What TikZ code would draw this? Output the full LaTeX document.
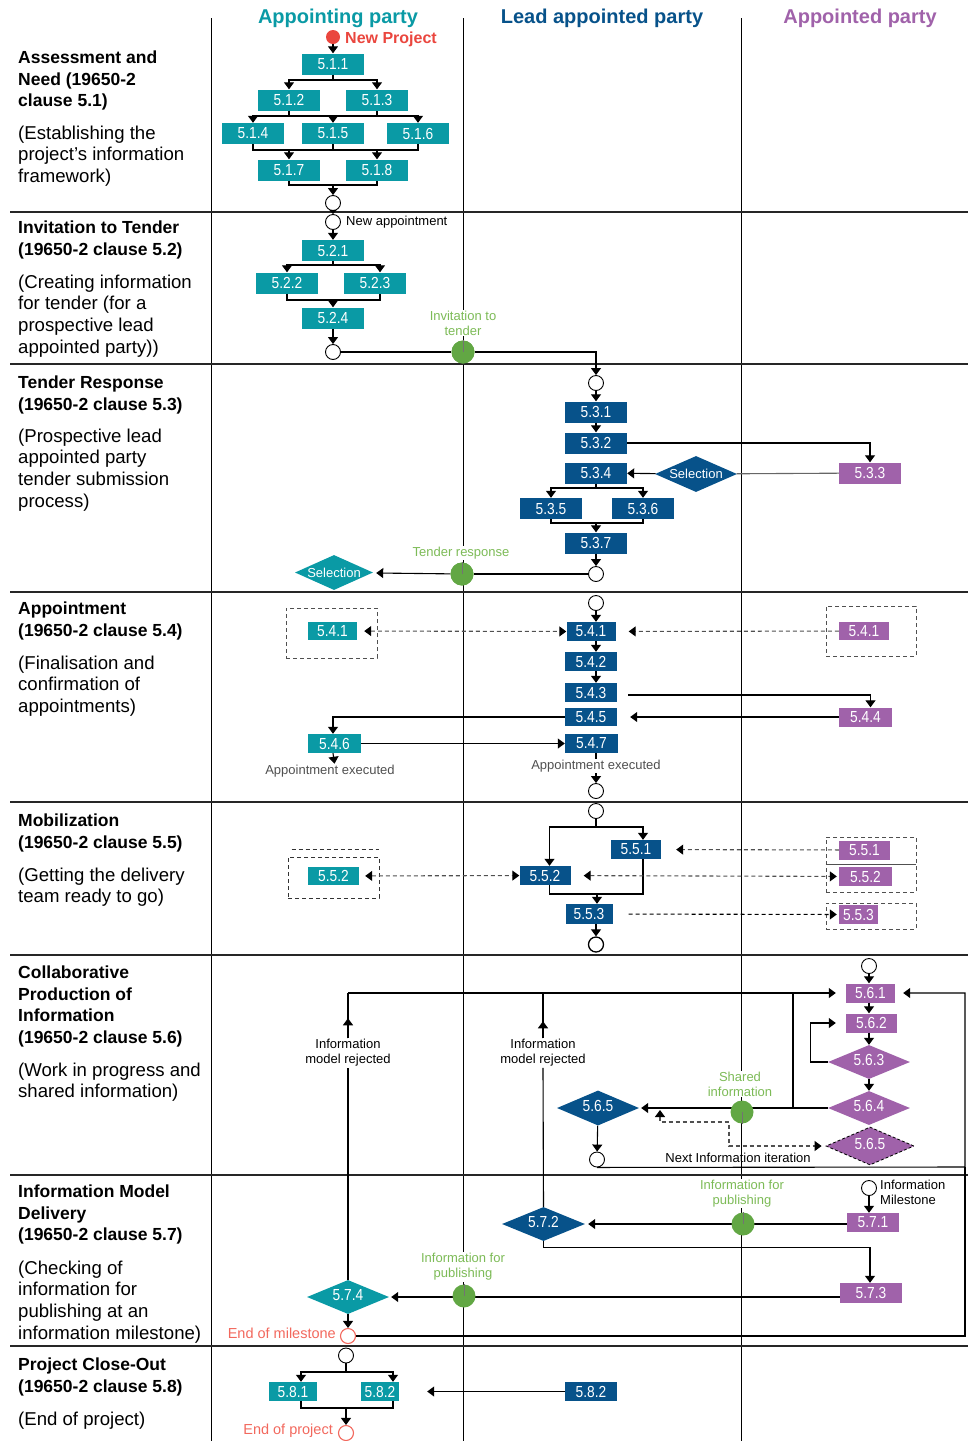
\documentclass[tikz,border=0pt]{standalone}
\usepackage{fontspec}
\setmainfont{Liberation Sans}
\newfontfamily\boxfont[FakeStretch=0.86]{Liberation Sans}
\usetikzlibrary{arrows.meta,shapes.geometric,calc}

\definecolor{apteal}{HTML}{0A9AA5}
\definecolor{lapblue}{HTML}{07528A}
\definecolor{appurple}{HTML}{A062AA}
\definecolor{dotgreen}{HTML}{62A744}
\definecolor{txtgreen}{HTML}{7DBB57}
\definecolor{npred}{HTML}{EA463E}
\definecolor{endred}{HTML}{F2685D}
\definecolor{capgray}{HTML}{505050}

\tikzset{
  task/.style={rectangle, inner sep=0pt, minimum width=62pt, minimum height=21pt,
    text=white, font=\boxfont\fontsize{16}{16}\selectfont},
  apt/.style={task, fill=apteal},
  lap/.style={task, fill=lapblue},
  apd/.style={task, fill=appurple},
  gate/.style={diamond, aspect=2.4, inner sep=0pt, minimum width=82pt, minimum height=34pt,
    text=white, text depth=5pt, font=\boxfont\fontsize{16}{16}\selectfont},
  choice/.style={diamond, aspect=2.4, inner sep=0pt, minimum width=82pt, minimum height=36pt,
    text=white, font=\fontsize{13}{13}\selectfont},
  state/.style={circle, draw=black, fill=white, line width=0.9pt, minimum size=15pt, inner sep=0pt},
  endstate/.style={state, draw=endred, line width=1.1pt},
  hand/.style={circle, fill=dotgreen, minimum size=23pt, inner sep=0pt},
  seam/.style={line width=0.6pt, draw=black!55},
  flow/.style={line width=1.1pt, draw=black},
  arr/.style={flow, -{Triangle[length=7pt,width=10pt]}},
  link/.style={line width=1.1pt, draw=capgray, dash pattern=on 4pt off 3pt},
  larr/.style={link, {Triangle[length=7pt,width=10pt,color=black]}-{Triangle[length=7pt,width=10pt,color=black]}},
  rarr/.style={link, -{Triangle[length=7pt,width=10pt,color=black]}},
  frame/.style={draw=capgray, line width=0.9pt, dash pattern=on 4pt off 3pt, inner sep=0pt, fill=none},
  small/.style={font=\fontsize{13}{15}\selectfont, inner sep=1pt, align=center, fill=white},
  greenlab/.style={small, text=txtgreen},
  redlab/.style={inner sep=1pt, text=endred, font=\fontsize{14.5}{16}\selectfont},
  phase/.style={anchor=north west, align=left, inner sep=0pt, font=\bfseries\fontsize{17.5}{21.7}\selectfont},
  phasenote/.style={anchor=north west, align=left, inner sep=0pt, font=\fontsize{18.6}{21.7}\selectfont},
  lane/.style={font=\bfseries\fontsize{20}{24}\selectfont, anchor=base, inner sep=0pt},
}

\begin{document}
\begin{tikzpicture}[x=1pt,y=-1pt]
\useasboundingbox (0,0) rectangle (968,1441);

% swimlane grid
\draw[line width=1pt] (211,18) -- (211,1441);
\draw[line width=1pt] (463,18) -- (463,1441);
\draw[line width=1pt] (741,18) -- (741,1441);
\foreach \yy in {212,364,592,802,955,1175,1346}
  \draw[line width=1.2pt, draw=black!85] (10,\yy) -- (968,\yy);

% lane headers
\node[lane, text=apteal] (hA) at (338,23) {Appointing party};
\node[lane, text=lapblue] (hL) at (602,23) {Lead appointed party};
\node[lane, text=appurple] (hP) at (860,23) {Appointed party};

% phase descriptions
\node[phase] (p1) at (18,50.5) {Assessment and\\Need (19650-2\\clause 5.1)};
\node[phasenote] (p1n) at (18,125.5) {(Establishing the\\project’s information\\framework)};
\node[phase] (p2) at (18,220.5) {Invitation to Tender\\(19650-2 clause 5.2)};
\node[phasenote] (p2n) at (18,274.5) {(Creating information\\for tender (for a\\prospective lead\\appointed party))};
\node[phase] (p3) at (18,375.5) {Tender Response\\(19650-2 clause 5.3)};
\node[phasenote] (p3n) at (18,428.5) {(Prospective lead\\appointed party\\tender submission\\process)};
\node[phase] (p4) at (18,601.5) {Appointment\\(19650-2 clause 5.4)};
\node[phasenote] (p4n) at (18,655.5) {(Finalisation and\\confirmation of\\appointments)};
\node[phase] (p5) at (18,813.5) {Mobilization\\(19650-2 clause 5.5)};
\node[phasenote] (p5n) at (18,867.5) {(Getting the delivery\\team ready to go)};
\node[phase] (p6) at (18,965.5) {Collaborative\\Production of\\Information\\(19650-2 clause 5.6)};
\node[phasenote] (p6n) at (18,1062.5) {(Work in progress and\\shared information)};
\node[phase] (p7) at (18,1184.5) {Information Model\\Delivery\\(19650-2 clause 5.7)};
\node[phasenote] (p7n) at (18,1260.5) {(Checking of\\information for\\publishing at an\\information milestone)};
\node[phase] (p8) at (18,1357.5) {Project Close-Out\\(19650-2 clause 5.8)};
\node[phasenote] (p8n) at (18,1411.5) {(End of project)};

% ---------- 5.1 assessment and need
\node[circle, fill=npred, minimum size=14pt, inner sep=0pt] (np) at (333,37) {};
\node[anchor=base west, text=npred, font=\bfseries\fontsize{16}{16}\selectfont, inner sep=0pt] (npl) at (345,43) {New Project};
\node[apt] (t511) at (333,64) {5.1.1};
\node[apt] (t512) at (289,100) {5.1.2};
\node[apt] (t513) at (377,100) {5.1.3};
\node[apt] (t514) at (253,133.5) {5.1.4};
\node[apt] (t515) at (333,133.5) {5.1.5};
\node[apt] (t516) at (418,133.5) {5.1.6};
\node[apt] (t517) at (289,170) {5.1.7};
\node[apt] (t518) at (377,170) {5.1.8};
\node[state] (e51) at (333,203) {};
\coordinate (j1) at (333,80);
\coordinate (j2) at (333,116);
\coordinate (j3) at (333,150);
\coordinate (j4) at (333,185);
\draw[arr] (np) -- (t511);
\draw[flow] (t511) -- (j1);
\draw[arr] (j1) -| (t512.north);
\draw[arr] (j1) -| (t513.north);
\draw[flow] (t512.south) |- (j2) -| (t513.south);
\draw[arr] (j2) -| (t514.north);
\draw[arr] (j2) -| (t516.north);
\draw[arr] (j2) -- (t515.north);
\draw[flow] (t514.south) |- (j3) -| (t516.south);
\draw[flow] (t515.south) -- (j3);
\draw[arr] (j3) -| (t517.north);
\draw[arr] (j3) -| (t518.north);
\draw[flow] (t517.south) |- (j4) -| (t518.south);
\draw[arr] (j4) -- (e51.north);

% ---------- 5.2 invitation to tender
\node[state] (s52) at (333,222) {};
\draw[flow, -{Triangle[length=4pt,width=7pt]}] (e51.south) -- (s52.north);
\node[small, anchor=west] (s52l) at (345,222) {New appointment};
\node[apt] (t521) at (333,250.5) {5.2.1};
\node[apt] (t522) at (287,283) {5.2.2};
\node[apt] (t523) at (375,283) {5.2.3};
\node[apt] (t524) at (333,318) {5.2.4};
\node[state] (e52) at (333,352) {};
\coordinate (j5) at (333,265);
\coordinate (j6) at (333,300);
\draw[arr] (s52) -- (t521);
\draw[flow] (t521) -- (j5);
\draw[arr] (j5) -| (t522.north);
\draw[arr] (j5) -| ([xshift=5pt]t523.north);
\draw[flow] (t522.south) |- (j6) -| ([xshift=5pt]t523.south);
\draw[arr] (j6) -- (t524.north);
\draw[arr] (t524) -- (e52);
\node[state] (s53) at (596,383) {};
\node[hand] (g1) at (463,352) {};
\draw[flow] (e52) -- (g1);
\draw[arr] (g1) -| (s53.north);
\node[hand] at (g1) {};
\draw[seam] (g1.north) -- (g1.center);
\node[greenlab] (g1l) at (463,323) {Invitation to\\tender};

% ---------- 5.3 tender response
\node[lap] (t531) at (596,412) {5.3.1};
\node[lap] (t532) at (596,443) {5.3.2};
\node[apd] (t533) at (870,473) {5.3.3};
\node[choice, fill=lapblue] (sel1) at (696,474) {Selection};
\node[lap] (t534) at (596,473) {5.3.4};
\node[lap] (t535) at (551,508.5) {5.3.5};
\node[lap] (t536) at (643,508.5) {5.3.6};
\node[lap] (t537) at (596,543) {5.3.7};
\node[state] (e53) at (596,574) {};
\node[choice, fill=apteal, minimum width=78pt, minimum height=35pt] (sel2) at (334,572.5) {Selection};
\coordinate (j7) at (596,488);
\coordinate (j8) at (596,523);
\draw[arr] (s53) -- (t531);
\draw[arr] (t531) -- (t532);
\draw[arr] (t532.east) -| (t533.north);
\draw[flow, draw=black!60] (t533) -- (sel1);
\draw[arr] (sel1) -- (t534);
\draw[flow] (t534) -- (j7);
\draw[arr] (j7) -| (t535.north);
\draw[arr] (j7) -| (t536.north);
\draw[flow] (t535.south) |- (j8) -| (t536.south);
\draw[arr] (j8) -- (t537.north);
\draw[arr] (t537) -- (e53);
\node[hand] (g2) at (462,574) {};
\draw[flow] (e53) -- (g2);
\draw[arr, shorten >=4pt] (g2) -- (sel2);
\node[hand] at (g2) {};
\draw[seam] (g2.north) -- (g2.center);
\node[greenlab] (g2l) at (461,553) {Tender response};

% ---------- 5.4 appointment
\node[state] (s54) at (596,603) {};
\node[lap, minimum width=49pt, minimum height=19pt] (t541) at (591,631.5) {5.4.1};
\node[lap, minimum width=52pt, minimum height=19pt] (t542) at (591,661.5) {5.4.2};
\node[lap, minimum width=52pt, minimum height=19pt] (t543) at (591,692.5) {5.4.3};
\node[lap, minimum width=52pt, minimum height=18pt] (t545) at (591,717) {5.4.5};
\node[lap, minimum width=53pt, minimum height=19pt] (t547) at (591.5,743.5) {5.4.7};
\node[apt, minimum width=49pt, minimum height=18pt] (a541) at (332.5,631) {5.4.1};
\node[frame, minimum width=91pt, minimum height=50pt] (f541a) at (331.5,633) {};
\node[apd, minimum width=50pt, minimum height=18pt] (p541) at (864,631) {5.4.1};
\node[frame, minimum width=90pt, minimum height=50pt] (f541p) at (871,631) {};
\node[apd, minimum width=53pt, minimum height=19pt] (p544) at (865.5,717) {5.4.4};
\node[apt, minimum width=53pt, minimum height=19pt] (a546) at (334.5,743.5) {5.4.6};
\node[small, text=capgray] (x1) at (330,771) {Appointment executed};
\node[small, text=capgray] (x2) at (596,766) {Appointment executed};
\node[state] (e54) at (596,791) {};
\draw[arr] (s54) -- (s54 |- t541.north);
\draw[arr] (t541.south -| s54) -- (t542.north -| s54);
\draw[arr] (t542.south -| s54) -- (t543.north -| s54);
\draw[larr, shorten <=7pt] (a541) -- (t541);
\draw[rarr, shorten >=13pt] (p541) -- (t541);
\draw[arr, shorten <=11pt] ([yshift=-2.5pt]t543.east) -| ([xshift=5pt]p544.north);
\draw[arr, shorten >=13pt] (p544) -- (t545);
\draw[arr] (t545.west) -| ([xshift=-1.5pt]a546.north);
\draw[arr] (a546) -- (t547);
\draw[arr] ([xshift=-1.5pt]a546.south) -- (x1.north -| a546.south);
\draw[flow] (t547.south -| e54) -- (x2.north -| e54);
\draw[arr] (x2.south -| e54) -- (e54.north);

% ---------- 5.5 mobilization
\node[state] (s55) at (596,811) {};
\node[lap, minimum width=50pt, minimum height=19pt] (t551) at (636,849.5) {5.5.1};
\node[lap, minimum width=51pt, minimum height=19pt] (t552) at (545,875.5) {5.5.2};
\node[lap, minimum width=47pt, minimum height=20pt] (t553) at (589,914) {5.5.3};
\node[state, line width=1.3pt] (e55) at (596,944.5) {};
\node[apt, minimum width=51pt, minimum height=18pt] (a552) at (333.5,876) {5.5.2};
\node[frame, draw=black!80, minimum width=91pt, minimum height=41pt] (f552a) at (333.5,877.5) {};
\draw[frame, draw=black!80] ([xshift=4pt,yshift=7pt]f552a.north west) -- ([yshift=7pt]f552a.north east);
\node[apd, minimum width=51pt, minimum height=19pt] (p551) at (864.5,850) {5.5.1};
\node[apd, minimum width=53pt, minimum height=19pt] (p552) at (865.5,876.5) {5.5.2};
\node[apd, minimum width=39pt, minimum height=19pt] (p553) at (858.5,914.5) {5.5.3};
\node[frame, minimum width=90pt, minimum height=55pt] (f55p) at (871,864.5) {};
\draw[line width=0.9pt, draw=capgray] (f55p.west) -- (f55p.east);
\node[frame, minimum width=90pt, minimum height=26pt] (f553p) at (871,916) {};
\coordinate (j9) at (596,827);
\coordinate (j10) at (597,894);
\draw[flow] (s55) -- (j9);
\draw[arr] (j9) -| ([xshift=4.5pt]t552.north);
\draw[arr] (j9) -| ([xshift=7pt]t551.north);
\draw[flow] ([xshift=4.5pt]t552.south) |- (j10) -| ([xshift=7pt]t551.south);
\draw[arr] (j10) -- (j10 |- t553.north);
\draw[arr] (t553.south -| e55) -- (e55.north);
\draw[rarr, shorten >=15pt] (p551) -- (t551);
\draw[larr, shorten <=6pt] (a552) -- (t552);
\draw[larr, shorten <=13pt, shorten >=2pt] (t552) -- (p552);
\draw[rarr, draw=black, shorten <=16pt, shorten >=2pt] (t553) -- (p553);

% ---------- 5.6 collaborative production
\node[state] (s56) at (869,966) {};
\node[apd, minimum width=49pt, minimum height=19pt] (p561) at (870.5,993) {5.6.1};
\node[apd, minimum width=51pt, minimum height=19pt] (p562) at (871.5,1023) {5.6.2};
\node[gate, fill=appurple] (d563) at (869,1062) {5.6.3};
\node[gate, fill=appurple] (d564) at (869,1108) {5.6.4};
\node[gate, fill=appurple, minimum width=88pt, minimum height=38pt, draw=black, line width=0.8pt, dash pattern=on 3pt off 2pt] (d565p) at (870,1146) {5.6.5};
\node[gate, fill=lapblue, minimum height=35pt] (d565) at (598,1108) {5.6.5};
\node[state] (e56) at (597,1159.5) {};
\node[small] (rj1) at (348,1053) {Information\\model rejected};
\node[small] (rj2) at (543,1053) {Information\\model rejected};
\coordinate (c1) at (348,993);
\coordinate (c2) at (793,1108);
\coordinate (c3) at (793,993);
\coordinate (c4) at (660,1110);
\coordinate (c5) at (965,1167);
\coordinate (c6) at (729,1122);
\draw[arr] (s56) -- (s56 |- p561.north);
\draw[arr] (p561.south -| s56) -- (p562.north -| s56);
\draw[arr] (p562.south -| s56) -- (d563.north);
\draw[arr] (d563) -- (d564);
\draw[arr, shorten >=10pt] (d563.west) -- ++(-17,0) |- (p562.west);
\draw[arr, shorten >=10pt] (c1) -- (p561.west |- c1);
\draw[flow] (rj1.north) -- (c1);
\draw[arr] (rj1.north) -- ++(0,-20);
\draw[flow] (rj2.north) -- (rj2.north |- c1);
\draw[arr] (rj2.north) -- ++(0,-17);
\draw[arr, shorten >=2pt] (d564) -- (d565);
\draw[flow] (c2) -- (c3);
\draw[larr, shorten >=4pt] (c4) |- (c6) |- (d565p.west);
\draw[arr] (d565) -- (e56);
\draw[arr, shorten >=8pt] (e56.south) -- (c5) |- (p561.east);
\node[small, fill=none] (nii) at (738,1158) {Next Information iteration};
\node[hand] (g3) at (742,1112) {};
\draw[seam] (g3.center) -- (g3.south);
\node[greenlab] (g3l) at (740,1084) {Shared\\information};

% ---------- 5.7 information model delivery
\node[state] (s57) at (869,1188) {};
\node[small, anchor=west, align=left] (s57l) at (879,1192) {Information\\Milestone};
\node[apd, minimum width=52pt, minimum height=19pt] (p571) at (873,1222.5) {5.7.1};
\node[gate, fill=lapblue, minimum width=83pt] (d572) at (543.5,1224) {5.7.2};
\node[apd, minimum width=62pt, minimum height=20pt] (p573) at (871,1293) {5.7.3};
\node[gate, fill=apteal] (d574) at (348,1297) {5.7.4};
\node[endstate] (e57) at (348,1336) {};
\node[redlab, anchor=east] (e57l) at (337,1333) {End of milestone};
\draw[flow] (d574.north) -- (rj1.south);
\draw[flow] (d572.north) -- (rj2.south);
\draw[arr] (s57) -- (s57 |- p571.north);
\draw[arr, shorten >=3pt] (p571.west |- d572.east) -- (d572.east);
\draw[arr] (d572.south) -- ++(0,6) -| ([xshift=-1pt]p573.north);
\draw[arr, shorten >=2pt] (p573.west |- d574.east) -- (d574.east);
\draw[arr] (d574) -- (e57);
\draw[flow] (e57.east) -| (c5);
\node[hand] (g4) at (743,1224) {};
\draw[seam] (g4.north) -- (g4.center);
\node[greenlab] (g4l) at (742,1193.5) {Information for\\publishing};
\node[hand] (g5) at (464,1296) {};
\draw[seam] (g5.north) -- (g5.center);
\node[greenlab] (g5l) at (463,1267) {Information for\\publishing};

% ---------- 5.8 project close-out
\node[state] (s58) at (346,1355.5) {};
\node[apt, minimum width=48pt, minimum height=19pt] (a581) at (293,1391.5) {5.8.1};
\node[apt, minimum width=38pt, minimum height=19pt] (a582) at (380,1391.5) {5.8.2};
\node[lap, minimum width=52pt, minimum height=19pt] (t582) at (591,1391.5) {5.8.2};
\node[endstate] (e58) at (346,1433) {};
\node[redlab, anchor=east] (e58l) at (334,1431) {End of project};
\coordinate (j11) at (346,1372);
\coordinate (j12) at (346,1408);
\draw[flow] (s58) -- (j11);
\draw[arr] (j11) -| ([xshift=8pt]a581.north);
\draw[arr] (j11) -| ([xshift=13pt]a582.north);
\draw[flow] ([xshift=8pt]a581.south) |- (j12) -| ([xshift=13pt]a582.south);
\draw[arr] (j12) -- (e58);
\draw[arr, shorten >=28pt] (t582) -- (a582);
\end{tikzpicture}
\end{document}
